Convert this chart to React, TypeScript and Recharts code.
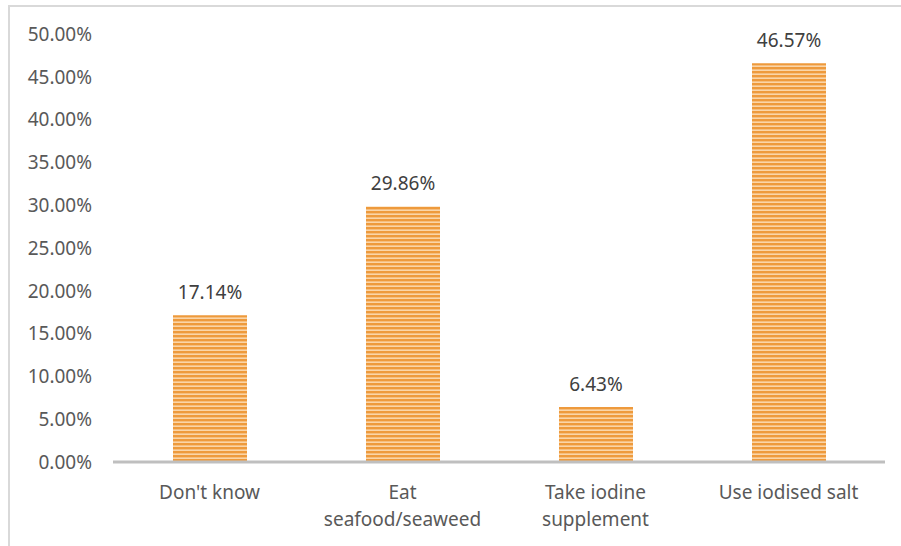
import React from 'react';
import { BarChart, Bar, XAxis, YAxis, LabelList } from 'recharts';

const categories = ["Don't know", 'Eat seafood/seaweed', 'Take iodine supplement', 'Use iodised salt'];
const tickLines: string[][] = [["Don't know"], ['Eat', 'seafood/seaweed'], ['Take iodine', 'supplement'], ['Use iodised salt']];
const shares = [17.14, 29.86, 6.43, 46.57];
const yTicks = [0, 5, 10, 15, 20, 25, 30, 35, 40, 45, 50];

const data = categories.map((name, i) => ({ name, value: shares[i] }));

const FONT = "'Noto Sans', 'Open Sans', sans-serif";

const CategoryTick = (props: any) => {
  const { x, y, payload, index } = props;
  const lines = tickLines[index] ?? [payload.value];
  return (
    <text x={x} y={y} textAnchor="middle" fill="#595959" fontSize={19} fontFamily={FONT}>
      {lines.map((l, i) => (
        <tspan key={i} x={x} dy={i === 0 ? 29 : 27}>
          {l}
        </tspan>
      ))}
    </text>
  );
};

export default function App() {
  return (
    <div
      style={{
        position: 'absolute',
        left: 8,
        top: 5,
        width: 893,
        height: 545,
        borderLeft: '2px solid #d9d9d9',
        borderTop: '2px solid #d9d9d9',
        background: '#fff',
      }}
    >
      <svg width={0} height={0} style={{ position: 'absolute' }}>
        <defs>
          <pattern id="stripes" patternUnits="userSpaceOnUse" width={8} height={4}>
            <rect x={0} y={0} width={8} height={4} fill="#f6be7e" />
            <rect x={0} y={0} width={8} height={2} fill="#ee9a3c" />
            <rect x={0} y={3} width={8} height={1} fill="#fad5a8" />
          </pattern>
        </defs>
      </svg>
      <BarChart
        width={893}
        height={540}
        data={data}
        margin={{ top: 27, right: 18, left: 0, bottom: 0 }}
        barSize={74}
      >
        <XAxis
          dataKey="name"
          interval={0}
          tickLine={false}
          axisLine={{ stroke: '#bfbfbf', strokeWidth: 3 }}
          tick={<CategoryTick />}
          height={85}
        />
        <YAxis
          width={103}
          domain={[0, 50]}
          ticks={yTicks}
          interval={0}
          tickLine={false}
          axisLine={false}
          tickMargin={15}
          tickFormatter={(v: number) => `${v.toFixed(2)}%`}
          tick={{ fill: '#595959', fontSize: 19, fontFamily: FONT }}
        />
        <Bar dataKey="value" fill="url(#stripes)" isAnimationActive={false}>
          <LabelList
            dataKey="value"
            position="top"
            offset={16}
            formatter={(v: any) => `${Number(v).toFixed(2)}%`}
            style={{ fill: '#404040', fontSize: 19, fontFamily: FONT }}
          />
        </Bar>
      </BarChart>
    </div>
  );
}
